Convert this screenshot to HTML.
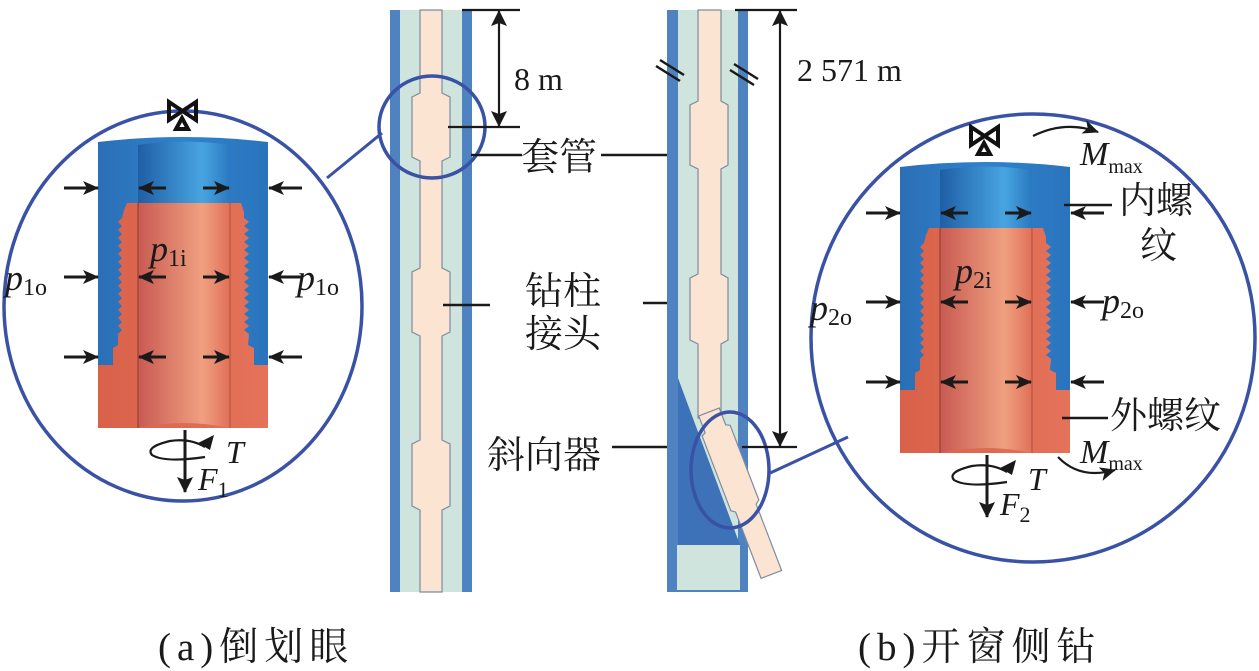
<!DOCTYPE html>
<html><head><meta charset="utf-8"><style>
html,body{margin:0;padding:0;background:#fff;}
svg{display:block;}
text{font-family:"Liberation Serif","Noto Serif CJK SC",serif;fill:#1a1a1a;}
.cjk{font-family:"Liberation Serif","Noto Serif CJK SC","Noto Sans CJK SC",serif;}
</style></head><body>
<svg width="1259" height="671" viewBox="0 0 1259 671" xmlns="http://www.w3.org/2000/svg">
<defs>
<marker id="ah" markerWidth="16" markerHeight="16" refX="15" refY="8" orient="auto-start-reverse" markerUnits="userSpaceOnUse">
<path d="M0,1 L16,8 L0,15 L4,8 Z" fill="#1a1a1a"/></marker>
<marker id="ahb" markerWidth="16" markerHeight="20" refX="15" refY="8" orient="auto-start-reverse" markerUnits="userSpaceOnUse">
<path d="M0,0 L16,8 L0,16 L3,8 Z" fill="#1a1a1a"/></marker>
<linearGradient id="bl" x1="0" x2="1"><stop offset="0" stop-color="#2b6fb6"/><stop offset="0.5" stop-color="#2f82cc"/><stop offset="1" stop-color="#2a74bd"/></linearGradient>
<linearGradient id="bli" x1="0" x2="1"><stop offset="0" stop-color="#1f5ea5"/><stop offset="0.7" stop-color="#48a5e0"/><stop offset="1" stop-color="#2a78c0"/></linearGradient>
<linearGradient id="rd" x1="0" x2="1"><stop offset="0" stop-color="#d9614a"/><stop offset="1" stop-color="#e4735a"/></linearGradient>
<linearGradient id="rdi" x1="0" x2="1"><stop offset="0" stop-color="#c85a52"/><stop offset="0.7" stop-color="#f0a080"/><stop offset="1" stop-color="#e07058"/></linearGradient>
<g id="comp">
 <path d="M98,142 Q183,132 268,142 L268,365 L98,365 Z" fill="url(#bl)"/>
 <path d="M138,145 Q184,138 230,145 L230,205 L138,205 Z" fill="url(#bli)"/>
 <path d="M127,203 L241,203 L244,212 L244,218 L249,222 L244,226 L249,230 L244,234 L249,238 L244,242 L249,246 L244,250 L249,254 L244,258 L249,262 L244,266 L249,270 L244,274 L249,278 L244,282 L249,286 L244,290 L249,294 L244,298 L249,302 L244,306 L249,310 L244,314 L249,318 L244,322 L249,326 L244,330 L249,334 L248,345 L254,348 L254,365 L268,365 L268,428 L98,428 L98,365 L113,365 L113,348 L118,345 L118,334 L122,330 L118,326 L122,322 L118,318 L122,314 L118,310 L122,306 L118,302 L122,298 L118,294 L122,290 L118,286 L122,282 L118,278 L122,274 L118,270 L122,266 L118,262 L122,258 L118,254 L122,250 L118,246 L122,242 L118,238 L122,234 L118,230 L122,226 L118,222 L122,218 L124,210 Z" fill="url(#rd)"/>
 <path d="M138,203 L230,203 L230,428 Q184,418 138,428 Z" fill="url(#rdi)"/>
 <line x1="138" y1="203" x2="138" y2="428" stroke="#8a3a30" stroke-width="1"/>
 <line x1="230" y1="203" x2="230" y2="428" stroke="#b05040" stroke-width="1"/>
 <g stroke="#1a1a1a" stroke-width="3" fill="none">
  <line x1="64" y1="188" x2="98" y2="188" marker-end="url(#ah)"/>
  <line x1="64" y1="277" x2="98" y2="277" marker-end="url(#ah)"/>
  <line x1="64" y1="357" x2="98" y2="357" marker-end="url(#ah)"/>
  <line x1="302" y1="188" x2="269" y2="188" marker-end="url(#ah)"/>
  <line x1="302" y1="277" x2="269" y2="277" marker-end="url(#ah)"/>
  <line x1="302" y1="357" x2="269" y2="357" marker-end="url(#ah)"/>
  <line x1="166" y1="188" x2="139" y2="188" marker-end="url(#ah)"/>
  <line x1="166" y1="277" x2="139" y2="277" marker-end="url(#ah)"/>
  <line x1="166" y1="357" x2="139" y2="357" marker-end="url(#ah)"/>
  <line x1="203" y1="188" x2="229" y2="188" marker-end="url(#ah)"/>
  <line x1="203" y1="277" x2="229" y2="277" marker-end="url(#ah)"/>
  <line x1="203" y1="357" x2="229" y2="357" marker-end="url(#ah)"/>
 </g>
 <g stroke="#111" stroke-width="4" fill="none">
  <path d="M169,102 L196,120 L196,102 L169,120 Z"/>
  <path d="M176,129 L182,118 L188,129 Z"/>
 </g>
 <g stroke="#1a1a1a" stroke-width="2.2" fill="none">
  <path d="M205,447 Q190,438 170,441 Q145,447 152,455 Q165,463 205,457"/>
  <line x1="185" y1="430" x2="185" y2="492" stroke-width="3" marker-end="url(#ahb)"/>
 </g>
 <path d="M198,443 L214,435 L210,450 Z" fill="#1a1a1a"/>
</g>
</defs>

<ellipse cx="183" cy="306" rx="179" ry="195" fill="none" stroke="#3a52a5" stroke-width="3.5"/>
<use href="#comp"/>
<text x="5" y="290" font-size="36" font-style="italic">p<tspan font-style="normal" font-size="24" dy="5">1o</tspan></text>
<text x="150" y="261" font-size="36" font-style="italic">p<tspan font-style="normal" font-size="24" dy="5">1i</tspan></text>
<text x="297" y="290" font-size="36" font-style="italic">p<tspan font-style="normal" font-size="24" dy="5">1o</tspan></text>
<text x="226" y="463" font-size="32" font-style="italic">T</text>
<text x="198" y="490" font-size="32" font-style="italic">F<tspan font-style="normal" font-size="22" dy="7">1</tspan></text>

<line x1="327" y1="178" x2="382" y2="133" stroke="#3a52a5" stroke-width="3"/>

<rect x="390" y="10" width="82" height="582" fill="#4f82c0"/>
<rect x="400" y="10" width="62" height="582" fill="#cfe4dc"/>
<g fill="#fbe4d2" stroke="#7d8ba0" stroke-width="1.2">
 <path d="M420,10 L420,93 L412,97 L412,157 L420,161 L420,268 L412,272 L412,332 L420,336 L420,440 L412,444 L412,506 L420,510 L420,592 L442,592 L442,510 L450,506 L450,444 L442,440 L442,336 L450,332 L450,272 L442,268 L442,161 L450,157 L450,97 L442,93 L442,10 Z"/>
</g>
<ellipse cx="432" cy="127" rx="53" ry="51" fill="none" stroke="#3a52a5" stroke-width="3.5"/>

<g stroke="#1a1a1a" stroke-width="2.2">
 <line x1="462" y1="10" x2="520" y2="10"/>
 <line x1="448" y1="127" x2="520" y2="127"/>
 <line x1="499" y1="11" x2="499" y2="126" marker-end="url(#ahb)" marker-start="url(#ahb)"/>
</g>
<text x="514" y="90" font-size="32">8 m</text>

<g stroke="#1a1a1a" stroke-width="2.5">
 <line x1="471" y1="155" x2="522" y2="155"/>
 <line x1="601" y1="155" x2="668" y2="155"/>
 <line x1="443" y1="305" x2="490" y2="305"/>
 <line x1="643" y1="303" x2="693" y2="303"/>
 <line x1="612" y1="447" x2="682" y2="447"/>
</g>
<text class="cjk" x="521" y="170" font-size="38">套管</text>
<text class="cjk" x="525" y="304" font-size="38">钻柱</text>
<text class="cjk" x="525" y="347" font-size="38">接头</text>
<text class="cjk" x="487" y="468" font-size="38">斜向器</text>

<rect x="667" y="10" width="81" height="582" fill="#4f82c0"/>
<rect x="678" y="10" width="60" height="535" fill="#cfe4dc"/>
<rect x="677" y="545" width="63" height="45" fill="#cfe4dc"/>
<path d="M678,378 L740,545 L678,545 Z" fill="#3d72b8"/>
<g fill="#fbe4d2" stroke="#7d8ba0" stroke-width="1.2">
 <path d="M698,10 L698,101 L690,105 L690,165 L698,169 L698,274 L690,278 L690,340 L698,344 L698,418 L721,418 L721,344 L728,340 L728,278 L721,274 L721,169 L728,165 L728,105 L721,101 L721,10 Z"/>
 <g transform="translate(709,412) rotate(-21)">
  <path d="M-11,0 L-11,18 L-15,20 L-15,100 L-11,103 L-11,174 L11,174 L11,103 L15,100 L15,20 L11,18 L11,0 Z"/>
 </g>
</g>
<g stroke="#1a1a1a" stroke-width="2.5">
 <line x1="660" y1="60" x2="684" y2="75"/><line x1="656" y1="66" x2="680" y2="81"/>
 <line x1="734" y1="64" x2="758" y2="79"/><line x1="730" y1="70" x2="754" y2="85"/>
</g>
<ellipse cx="730" cy="470" rx="39" ry="58" fill="none" stroke="#3a52a5" stroke-width="3.5"/>
<line x1="768" y1="474" x2="848" y2="437" stroke="#3a52a5" stroke-width="3"/>

<g stroke="#1a1a1a" stroke-width="2.2">
 <line x1="735" y1="10" x2="797" y2="10"/>
 <line x1="742" y1="447" x2="797" y2="447"/>
 <line x1="780" y1="11" x2="780" y2="446" marker-end="url(#ahb)" marker-start="url(#ahb)"/>
</g>
<text x="797" y="81" font-size="32">2 571 m</text>

<ellipse cx="1033" cy="338" rx="222" ry="224" fill="none" stroke="#3a52a5" stroke-width="3.5"/>
<use href="#comp" transform="translate(802,25)"/>
<g stroke="#1a1a1a" stroke-width="2.2" fill="none">
 <path d="M1033,136 Q1065,120 1098,132" marker-end="url(#ah)"/>
 <path d="M1058,457 Q1080,480 1115,470" marker-end="url(#ah)"/>
 <line x1="1064" y1="205" x2="1112" y2="205" stroke-width="2.5"/>
 <line x1="1062" y1="418" x2="1108" y2="418" stroke-width="2.5"/>
</g>
<text x="1080" y="165" font-size="34" font-style="italic">M<tspan font-style="normal" font-size="20" dy="8">max</tspan></text>
<text x="1080" y="463" font-size="34" font-style="italic">M<tspan font-style="normal" font-size="20" dy="7">max</tspan></text>
<text class="cjk" x="1119" y="213" font-size="37">内螺</text>
<text class="cjk" x="1140" y="258" font-size="37">纹</text>
<text class="cjk" x="1110" y="428" font-size="37">外螺纹</text>
<text x="810" y="320" font-size="36" font-style="italic">p<tspan font-style="normal" font-size="24" dy="5">2o</tspan></text>
<text x="955" y="283" font-size="36" font-style="italic">p<tspan font-style="normal" font-size="24" dy="5">2i</tspan></text>
<text x="1102" y="313" font-size="36" font-style="italic">p<tspan font-style="normal" font-size="24" dy="5">2o</tspan></text>
<text x="1028" y="490" font-size="32" font-style="italic">T</text>
<text x="1000" y="515" font-size="32" font-style="italic">F<tspan font-style="normal" font-size="22" dy="7">2</tspan></text>

<text class="cjk" x="158" y="660" font-size="39" letter-spacing="6">(a)倒划眼</text>
<text class="cjk" x="858" y="660" font-size="39" letter-spacing="6">(b)开窗侧钻</text>
</svg>
</body></html>
